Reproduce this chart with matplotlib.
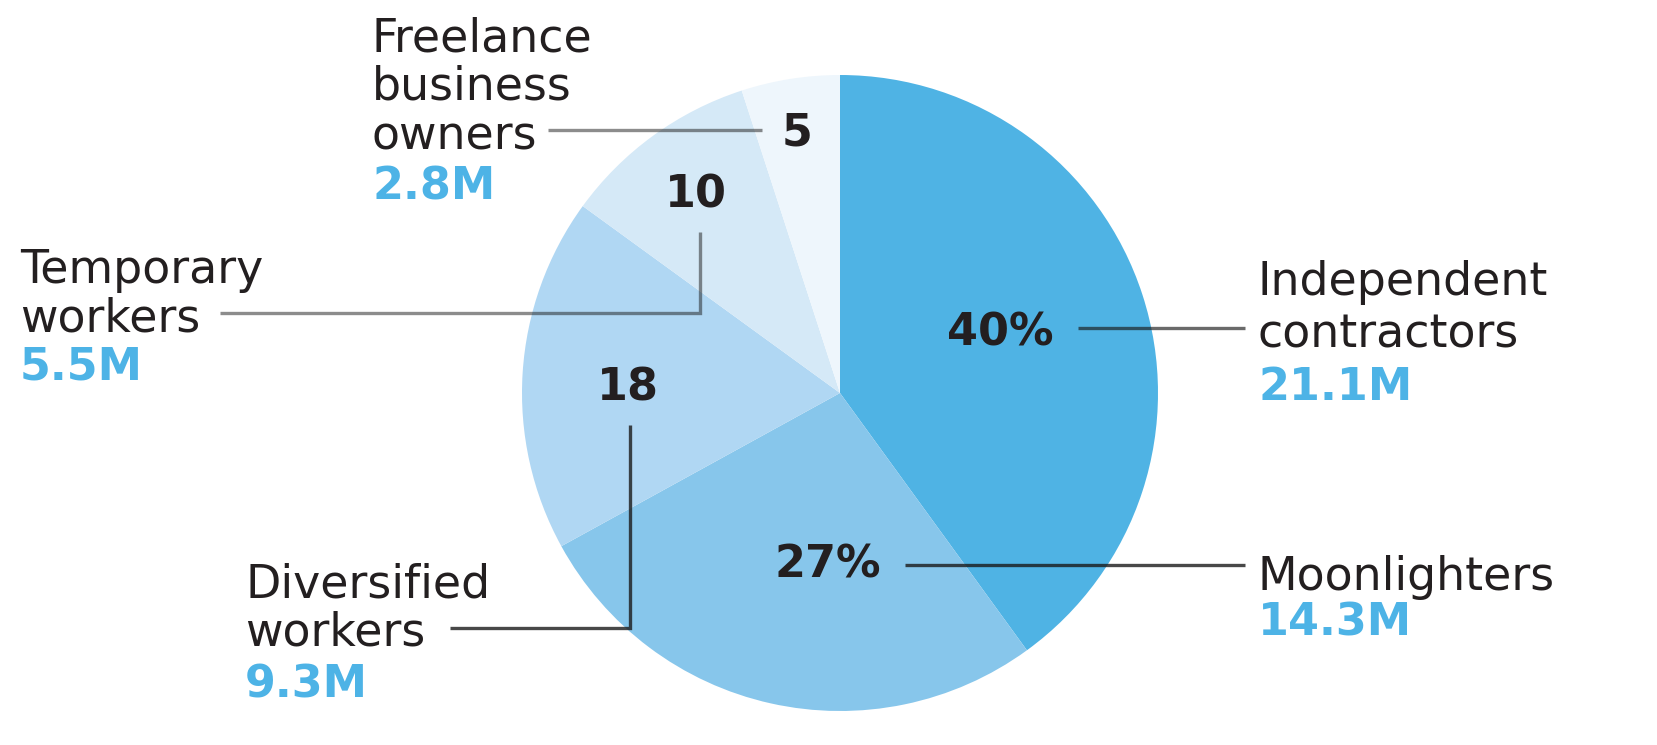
import matplotlib
matplotlib.use("Agg")
import matplotlib.pyplot as plt

# ---- data ----
categories = ["Independent\ncontractors", "Moonlighters", "Diversified\nworkers",
              "Temporary\nworkers", "Freelance\nbusiness\nowners"]
shares = [40, 27, 18, 10, 5]
share_labels = ["40%", "27%", "18", "10", "5"]
counts = ["21.1M", "14.3M", "9.3M", "5.5M", "2.8M"]
colors = ["#4fb3e4", "#87c6eb", "#b0d7f3", "#d5e9f7", "#eef6fc"]

W, H = 1657, 745
fig = plt.figure(figsize=(W / 100, H / 100), dpi=100)

# pie axes: centre (840, 393) px from top-left, radius 318 px
cx, cy, r = 840, 393, 318
ax = fig.add_axes([(cx - r) / W, (H - cy - r) / H, 2 * r / W, 2 * r / H])
ax.pie(shares, colors=colors, startangle=90, counterclock=False, radius=1,
       wedgeprops=dict(linewidth=0))
ax.set_xlim(-1, 1)
ax.set_ylim(-1, 1)
ax.set_aspect("equal")
ax.axis("off")

# overlay in pixel coords for annotations
ov = fig.add_axes([0, 0, 1, 1], zorder=5)
ov.set_xlim(0, W)
ov.set_ylim(H, 0)
ov.axis("off")
ov.patch.set_alpha(0)

DARK = "#231f20"
BLUE = "#4db3e6"
lab_font = dict(family="DejaVu Sans", fontsize=33, color=DARK)
num_font = dict(family="DejaVu Sans", fontsize=32, fontweight="bold")

# leader lines
def line(xs, ys, alpha):
    ov.plot(xs, ys, color="#1a1a1a", alpha=alpha, lw=2.4, solid_capstyle="butt",
            solid_joinstyle="miter")

line([1078, 1245], [328, 328], 0.65)                 # Independent
line([905, 1245], [565, 565], 0.8)                   # Moonlighters
line([450, 630, 630], [628, 628, 425], 0.8)          # Diversified
line([220, 700, 700], [313, 313, 232], 0.5)          # Temporary
line([548, 762], [130, 130], 0.5)                    # Freelance

# share labels on the pie
share_pos = [(1000, 333), (828, 565), (628, 388), (696, 195), (797, 133)]
for (x, y), s in zip(share_pos, share_labels):
    ov.text(x, y, s, ha="center", va="center", color=DARK, **num_font)

# category labels + counts
label_blocks = [
    (1258, [295, 347], 400),      # Independent contractors
    (1258, [590], 636),           # Moonlighters
    (245, [598, 646], 698),       # Diversified workers
    (20, [283, 331], 380),        # Temporary workers
    (372, [52, 100, 149], 200),   # Freelance business owners
]
for (x, bases, nb), cat, cnt in zip(label_blocks, categories, counts):
    for b, ln in zip(bases, cat.split("\n")):
        ov.text(x, b, ln, ha="left", va="baseline", **lab_font)
    ov.text(x, nb, cnt, ha="left", va="baseline", color=BLUE, **num_font)

fig.savefig("out.png", dpi=100, facecolor="white")
